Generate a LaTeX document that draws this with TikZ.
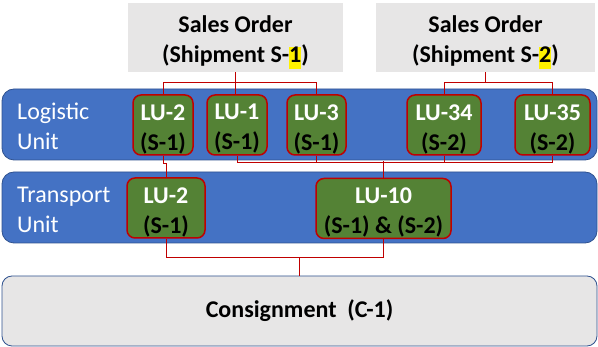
\documentclass[tikz,border=0pt]{standalone}
\usepackage{fontspec}
\setmainfont{Carlito}
\definecolor{bandblue}{HTML}{4472C4}
\definecolor{bandedge}{HTML}{2F528F}
\definecolor{lugreen}{HTML}{548235}
\definecolor{lured}{HTML}{C00000}
\definecolor{sogray}{HTML}{E7E6E6}
\newcommand{\hlnum}[1]{{\setlength{\fboxsep}{0pt}\colorbox{yellow}{\rule[-6pt]{0pt}{20pt}#1}}}
\tikzset{
  band/.style={draw=bandedge,line width=0.8pt,fill=bandblue,rounded corners=12pt,minimum width=595pt,minimum height=71pt,inner sep=0pt},
  bandtext/.style={text=white,align=left,anchor=west,inner sep=0pt},
  boldtext/.style={align=center,inner sep=0pt,font=\fontsize{24}{30}\selectfont\bfseries},
  lubox/.style={draw=lured,line width=1.5pt,fill=lugreen,rounded corners=8pt,minimum height=60pt,inner sep=0pt},
  lutext/.style={boldtext,yshift=-4pt},
  sobox/.style={fill=sogray,minimum height=69pt,inner sep=0pt},
  sotext/.style={boldtext,yshift=-5pt},
  link/.style={draw=lured,line width=1pt}
}
\begin{document}
\begin{tikzpicture}[x=1pt,y=-1pt,font=\fontsize{24}{30}\selectfont]
            \useasboundingbox (0,0) rectangle (598,347);
            \node[sobox,minimum width=215pt,label={[sotext]center:{Sales Order\\(Shipment S-\hlnum{1})}}] (so1) at (235.5,37.5) {};
            \node[sobox,minimum width=219pt,label={[sotext]center:{Sales Order\\(Shipment S-\hlnum{2})}}] (so2) at (485.5,37.5) {};
            \node[band] (logband) at (299.5,124.5) {};
            \node[bandtext] (logtxt) at (17,126.5) {Logistic\\Unit};
            \node[lubox,minimum width=60pt,label={[lutext]center:{\textcolor{white}{LU-2}\\(S-1)}}] (lu2a) at (163,125) {};
            \node[lubox,minimum width=60pt,label={[lutext]center:{\textcolor{white}{LU-1}\\(S-1)}}] (lu1) at (237,125) {};
            \node[lubox,minimum width=59pt,label={[lutext]center:{\textcolor{white}{LU-3}\\(S-1)}}] (lu3) at (316.5,125) {};
            \node[lubox,minimum width=74pt,label={[lutext]center:{\textcolor{white}{LU-34}\\(S-2)}}] (lu34) at (444,125) {};
            \node[lubox,minimum width=75pt,label={[lutext]center:{\textcolor{white}{LU-35}\\(S-2)}}] (lu35) at (552.5,125) {};
            \node[band] (tuband) at (299.5,207.5) {};
            \node[bandtext] (tutxt) at (17,209.5) {Transport\\Unit};
            \node[lubox,minimum width=78pt,label={[lutext]center:{\textcolor{white}{LU-2}\\(S-1)}}] (lu2b) at (166,208) {};
            \node[lubox,minimum width=135pt,label={[lutext]center:{\textcolor{white}{LU-10}\\(S-1) \& (S-2)}}] (lu10) at (383.5,208.5) {};
            \node[sobox,boldtext,draw=bandedge,line width=0.8pt,rounded corners=10pt,minimum width=595pt,minimum height=70pt] (cons) at (299.5,311) {Consignment\ \ (C-1)};
            \draw[link] (so1.south) -- (so1.south |- lu1.north);
            \draw[link] (lu2a.north) -- ++(0,-12) -| (lu3.north);
            \draw[link] (so2.south) -- ++(0,11);
            \draw[link] (lu34.north) -- ++(0,-12) -| (lu35.north);
            \draw[link] (lu2a.south) -- ++(0,8) -| (lu2b.north);
            \draw[link] (lu1.south) -- ++(0,7) -| (lu35.south);
            \draw[link] (lu3.south) -- ++(0,7);
            \draw[link] (lu34.south) -- ++(0,7);
            \draw[link] (lu10.north) -- ++(0,-17);
            \draw[link] (lu2b.south) -- ++(0,19) -| (lu10.south);
            \draw[link] (cons.north) -- ++(0,-19);
        \end{tikzpicture}
\end{document}
